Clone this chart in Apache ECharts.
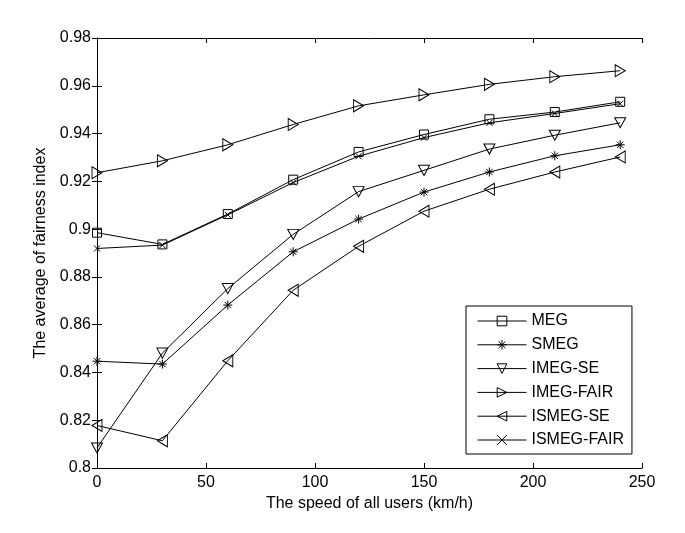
<!DOCTYPE html>
<html>
<head>
<meta charset="utf-8">
<script src="https://cdn.jsdelivr.net/npm/echarts@6/dist/echarts.min.js"></script>
<style>
  html, body { margin: 0; padding: 0; background: #fff; }
  #chart { width: 685px; height: 533px; }
</style>
</head>
<body>
<div id="chart"></div>
<script>
var speeds = [0, 30, 60, 90, 120, 150, 180, 210, 240];

var meg       = [0.8985, 0.8936, 0.9063, 0.9207, 0.9323, 0.9396, 0.9460, 0.9490, 0.9533];
var smeg      = [0.8447, 0.8435, 0.8682, 0.8905, 0.9042, 0.9155, 0.9239, 0.9307, 0.9353];
var imegSe    = [0.8084, 0.8481, 0.8751, 0.8978, 0.9157, 0.9246, 0.9335, 0.9393, 0.9445];
var imegFair  = [0.9236, 0.9286, 0.9353, 0.9438, 0.9516, 0.9562, 0.9606, 0.9638, 0.9663];
var ismegSe   = [0.8178, 0.8114, 0.8449, 0.8744, 0.8928, 0.9075, 0.9167, 0.9239, 0.9302];
var ismegFair = [0.8919, 0.8933, 0.9060, 0.9195, 0.9305, 0.9383, 0.9445, 0.9484, 0.9525];

var seriesNames = ['MEG', 'SMEG', 'IMEG-SE', 'IMEG-FAIR', 'ISMEG-SE', 'ISMEG-FAIR'];
var seriesData = [meg, smeg, imegSe, imegFair, ismegSe, ismegFair];

var xTicks = [0, 50, 100, 150, 200, 250];
var yTicks = [0.8, 0.82, 0.84, 0.86, 0.88, 0.9, 0.92, 0.94, 0.96, 0.98];

// marker shapes, matlab style
var markers = [
  { symbol: 'rect', size: 9 },
  { symbol: 'path://M5,0L5,10M0,5L10,5M1.5,1.5L8.5,8.5M8.5,1.5L1.5,8.5', size: 9 },
  { symbol: 'path://M0,0L10,0L5,10Z', size: [11, 10] },
  { symbol: 'path://M0,0L10,5L0,10Z', size: [10, 12] },
  { symbol: 'path://M10,0L0,5L10,10Z', size: [10, 12] },
  { symbol: 'path://M0,0L10,10M10,0L0,10', size: 6 }
];

var font = 'Liberation Sans, Arial, sans-serif';

function pairs(arr) {
  return arr.map(function (v, i) { return [speeds[i], v]; });
}

var series = seriesNames.map(function (name, i) {
  return {
    name: name,
    type: 'line',
    data: pairs(seriesData[i]),
    symbol: markers[i].symbol,
    symbolSize: markers[i].size,
    showAllSymbol: true,
    animation: false,
    lineStyle: { color: '#000', width: 1 },
    itemStyle: { color: 'rgba(0,0,0,0)', borderColor: '#000', borderWidth: 1 },
    emphasis: { disabled: true }
  };
});

var chart = echarts.init(document.getElementById('chart'));

var axisCommon = {
  axisLine: { lineStyle: { color: '#000', width: 1 } },
  axisTick: { inside: true, length: 5, lineStyle: { color: '#000' } },
  splitLine: { show: false }
};

chart.setOption({
  animation: false,
  grid: { left: 97, right: 43, top: 38, bottom: 65 },
  legend: {
    orient: 'vertical',
    left: 466,
    top: 306,
    data: seriesNames,
    itemWidth: 49,
    itemHeight: 12,
    itemGap: 7.8,
    padding: [7, 8, 6, 11],
    borderColor: '#000',
    borderWidth: 1,
    backgroundColor: '#fff',
    itemStyle: { color: 'rgba(0,0,0,0)', borderColor: '#000', borderWidth: 1 },
    lineStyle: { color: '#000', width: 1 },
    textStyle: { fontFamily: font, fontSize: 16, lineHeight: 16, color: '#000' }
  },
  xAxis: [
    Object.assign({
      type: 'value',
      min: xTicks[0],
      max: xTicks[xTicks.length - 1],
      interval: 50,
      name: 'The speed of all users (km/h)',
      nameLocation: 'middle',
      nameGap: 27,
      nameTextStyle: { fontFamily: font, fontSize: 16, color: '#000' },
      axisLabel: { fontFamily: font, fontSize: 16, color: '#000', margin: 7 }
    }, axisCommon),
    Object.assign({
      type: 'value',
      position: 'top',
      min: xTicks[0],
      max: xTicks[xTicks.length - 1],
      interval: 50,
      axisLabel: { show: false }
    }, axisCommon)
  ],
  yAxis: [
    Object.assign({
      type: 'value',
      min: yTicks[0],
      max: yTicks[yTicks.length - 1],
      interval: 0.02,
      name: 'The average of fairness index',
      nameLocation: 'middle',
      nameGap: 45,
      nameTextStyle: { fontFamily: font, fontSize: 16, color: '#000' },
      axisLabel: { fontFamily: font, fontSize: 16, color: '#000', margin: 6 }
    }, axisCommon),
    Object.assign({
      type: 'value',
      position: 'right',
      min: yTicks[0],
      max: yTicks[yTicks.length - 1],
      interval: 0.02,
      axisLabel: { show: false }
    }, axisCommon)
  ],
  series: series
});
</script>
</body>
</html>
